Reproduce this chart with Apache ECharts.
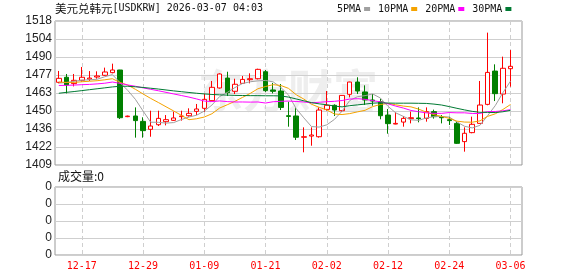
<!DOCTYPE html>
<html><head><meta charset="utf-8">
<script src="https://cdn.jsdelivr.net/npm/echarts@6/dist/echarts.min.js"></script>
<style>html,body{margin:0;padding:0;background:#fff}#c{width:578px;height:276px}</style>
</head><body><div id="c"></div>
<script>
const dates = ['12-12','12-15','12-16','12-17','12-18','12-19','12-22','12-23','12-24','12-25',
'12-26','12-29','12-30','12-31','01-02','01-05','01-06','01-07','01-08','01-09',
'01-12','01-13','01-14','01-15','01-16','01-19','01-20','01-21','01-22','01-23',
'01-26','01-27','01-28','01-29','01-30','02-02','02-03','02-04','02-05','02-06',
'02-09','02-10','02-11','02-12','02-13','02-16','02-17','02-18','02-19','02-20',
'02-23','02-24','02-25','02-26','02-27','03-02','03-03','03-04','03-05','03-06',''];
const opens = [1471.6,1475.4,1470.6,1473.1,1474.0,1475.6,1476.9,1478.9,1480.9,1445.6,
1446.1,1442.0,1436.0,1439.5,1441.8,1442.8,1445.6,1446.3,1449.6,1451.9,
1457.7,1467.3,1474.8,1464.8,1470.8,1473.6,1474.3,1479.6,1465.8,1465.0,
1446.3,1446.1,1430.0,1430.9,1430.4,1451.1,1454.2,1450.1,1462.5,1471.8,
1464.3,1458.2,1456.9,1446.8,1440.0,1441.5,1444.1,1444.6,1444.3,1449.4,
1445.3,1443.3,1440.5,1426.7,1433.5,1440.5,1454.9,1480.1,1462.7,1481.9];
const closes = [1474.6,1469.6,1473.1,1475.4,1474.8,1476.4,1479.4,1480.9,1444.8,1446.0,
1442.6,1435.0,1438.5,1444.3,1443.3,1444.6,1446.1,1448.1,1451.4,1458.7,
1467.8,1477.9,1463.7,1470.1,1473.8,1474.3,1481.4,1465.3,1464.8,1452.6,
1445.8,1430.0,1430.4,1431.7,1450.6,1454.2,1450.6,1461.7,1471.8,1465.0,
1458.2,1457.4,1446.3,1440.3,1440.5,1444.3,1444.8,1444.1,1449.4,1445.6,
1444.8,1442.6,1425.4,1433.0,1439.8,1454.4,1479.1,1463.0,1482.2,1483.7];
const lows = [1470.8,1463.2,1468.5,1472.1,1472.6,1474.3,1476.4,1478.4,1443.8,1445.2,
1429.7,1429.7,1430.4,1438.5,1439.0,1442.4,1442.6,1445.6,1446.8,1449.1,
1457.5,1466.8,1461.2,1462.7,1470.5,1470.8,1473.8,1464.3,1463.2,1450.6,
1438.0,1427.9,1418.6,1423.6,1429.7,1450.1,1446.1,1449.1,1460.2,1462.7,
1454.4,1453.9,1443.6,1432.7,1439.8,1438.0,1440.5,1441.3,1441.8,1444.1,
1440.5,1439.3,1424.9,1419.1,1433.0,1440.5,1454.2,1457.4,1455.7,1468.3];
const highs = [1480.2,1477.9,1477.9,1483.2,1480.1,1479.9,1482.7,1485.7,1481.0,1446.4,
1452.6,1445.1,1450.1,1450.1,1446.8,1449.4,1450.1,1451.9,1455.2,1463.0,
1472.6,1478.4,1479.6,1474.3,1476.4,1478.4,1481.9,1480.9,1471.1,1470.3,
1456.9,1452.1,1437.5,1437.5,1452.6,1465.0,1454.9,1461.9,1472.0,1475.4,
1469.3,1462.7,1459.2,1451.4,1448.9,1446.1,1449.4,1452.6,1452.6,1450.9,
1446.8,1445.6,1441.8,1437.5,1445.6,1472.6,1509.2,1485.2,1491.0,1496.0];
const ma5 = [1471.0,1471.5,1472.3,1473.2,1473.5,1473.9,1475.8,1477.4,1471.3,1465.5,
1458.7,1449.9,1441.4,1441.3,1440.7,1441.1,1443.4,1445.3,1446.7,1449.8,
1454.4,1460.8,1463.9,1467.6,1470.7,1472.0,1472.7,1473.0,1471.9,1467.7,
1462.0,1451.7,1444.7,1438.1,1437.7,1439.4,1443.5,1449.8,1457.8,1460.7,
1461.5,1462.8,1459.7,1453.4,1448.5,1445.8,1443.2,1442.8,1444.6,1445.6,
1445.7,1445.3,1441.6,1438.3,1437.1,1439.0,1446.3,1453.9,1463.7,1472.5];
const ma10 = [1471.8,1471.5,1471.5,1472.0,1472.4,1472.8,1473.5,1474.3,1471.5,1469.5,
1466.3,1462.8,1459.4,1456.3,1453.1,1449.9,1446.6,1443.3,1444.0,1445.3,
1447.8,1452.1,1454.6,1457.2,1460.2,1463.2,1466.7,1468.4,1469.8,1469.2,
1467.0,1462.2,1458.9,1455.0,1452.7,1450.7,1447.6,1447.2,1447.9,1449.2,
1450.4,1453.2,1454.8,1455.6,1454.6,1453.6,1453.0,1451.3,1449.0,1447.1,
1445.8,1444.3,1442.2,1441.5,1441.4,1442.4,1445.8,1447.7,1451.0,1454.8];
const ma20 = [1469.2,1469.3,1469.5,1469.8,1470.0,1470.4,1470.9,1471.8,1470.8,1469.6,
1468.6,1467.4,1466.3,1465.2,1464.0,1462.8,1461.6,1460.4,1459.0,1457.4,
1457.0,1457.5,1457.0,1456.7,1456.7,1456.6,1456.7,1455.9,1456.9,1457.2,
1457.4,1457.1,1456.7,1456.1,1456.5,1456.9,1457.2,1457.8,1458.9,1459.2,
1458.7,1457.7,1456.8,1455.3,1453.6,1452.1,1450.3,1449.3,1448.5,1448.1,
1448.1,1448.7,1448.5,1448.5,1448.0,1448.0,1449.4,1449.5,1450.0,1450.9];
const ma30 = [1463.3,1464.0,1464.6,1465.3,1466.0,1466.7,1467.4,1468.1,1468.6,1468.6,
1468.2,1467.7,1467.1,1466.5,1465.8,1465.1,1464.5,1463.9,1463.3,1462.8,
1462.4,1462.1,1461.9,1461.7,1461.6,1461.5,1461.5,1461.4,1461.4,1461.3,
1460.4,1459.0,1457.6,1456.2,1455.3,1454.6,1453.6,1453.0,1453.9,1454.5,
1455.1,1455.8,1456.1,1455.9,1455.8,1455.8,1455.8,1455.7,1455.6,1455.1,
1454.4,1453.2,1451.9,1450.7,1449.6,1448.9,1448.8,1448.7,1449.3,1450.4];
const volumes = [0,0,0,0,0,0,0,0,0,0,0,0,0,0,0,0,0,0,0,0,0,0,0,0,0,0,0,0,0,0,
0,0,0,0,0,0,0,0,0,0,0,0,0,0,0,0,0,0,0,0,0,0,0,0,0,0,0,0,0,0];
const priceTicks = ['1409','1422','1436','1450','1463','1477','1490','1504','1518'];
const volTicks = ['0','0','0','0','0'];
const maNames = ['5PMA','10PMA','20PMA','30PMA'];
const maColors = ['#a0a0a0','#f5a300','#ff00ff','#007a33'];
const titleMain = '美元兑韩元';
const titleSub = '[USDKRW] 2026-03-07 04:03';
const volTitle = '成交量:0';

const kdata = opens.map((o, i) => [o, closes[i], lows[i], highs[i]]);
const mono = "'DejaVu Sans Mono','Liberation Mono',monospace";
const labelIv = (idx) => idx % 8 === 3;

const chart = echarts.init(document.getElementById('c'), null, {renderer: 'canvas'});
const splitX = {show: true, interval: labelIv, alignWithLabel: true, lineStyle: {color: '#cfcfcf', type: [4, 3], width: 1}};
chart.setOption({
  animation: false,
  backgroundColor: '#fff',
  legend: {
    data: maNames, left: 337, top: 4, padding: 0, align: 'right', icon: 'rect',
    itemWidth: 6, itemHeight: 4, itemGap: 8,
    textStyle: {fontFamily: mono, fontSize: 10, color: '#111', padding: [0, -2, 0, 0]},
    selectedMode: false
  },
  graphic: [
    {type: 'text', left: 198, top: 68, z: 0, silent: true,
     style: {text: '东方财富', font: "bold 45px 'Noto Sans CJK SC'", fill: 'rgba(160,160,160,0.18)'}},
    {type: 'text', left: 55, top: 3,
     style: {text: '{a|' + titleMain + '}{b|' + titleSub + '}',
       rich: {a: {fontFamily: "'Noto Sans CJK SC'", fontSize: 11.5, fill: '#111'},
              b: {fontFamily: mono, fontSize: 10, fill: '#111'}}}},
    {type: 'text', left: 58, top: 170,
     style: {text: volTitle, font: "12px 'Noto Sans CJK SC'", fill: '#111'}}
  ],
  grid: [
    {left: 55, top: 21, width: 467, height: 144, show: true, borderColor: '#999', borderWidth: 1, backgroundColor: 'transparent'},
    {left: 55, top: 187, width: 467, height: 68, show: true, borderColor: '#999', borderWidth: 1, backgroundColor: 'transparent'}
  ],
  xAxis: [
    {type: 'category', gridIndex: 0, data: dates, boundaryGap: true,
     axisLine: {show: false}, axisTick: {show: false, alignWithLabel: true}, axisLabel: {show: false}, splitLine: splitX},
    {type: 'category', gridIndex: 1, data: dates, boundaryGap: true,
     axisLine: {show: false}, axisTick: {show: false, alignWithLabel: true},
     axisLabel: {show: true, interval: labelIv, color: '#ff0000', fontFamily: mono, fontSize: 10, margin: 6},
     splitLine: splitX}
  ],
  yAxis: [
    {type: 'value', gridIndex: 0, min: 1409, max: 1518, show: false},
    {type: 'value', gridIndex: 0, min: 0, max: 8, interval: 1, position: 'left',
     axisLine: {show: false}, axisTick: {show: false},
     axisLabel: {formatter: (v) => priceTicks[v], color: '#222', fontFamily: "'Liberation Sans',Arial", fontSize: 12, margin: 3},
     splitLine: {show: true, lineStyle: {color: '#cfcfcf', width: 1}}},
    {type: 'value', gridIndex: 1, min: 0, max: 4, interval: 1,
     axisLine: {show: false}, axisTick: {show: false},
     axisLabel: {formatter: (v) => volTicks[v], color: '#222', fontFamily: "'Liberation Sans',Arial", fontSize: 12, margin: 3},
     splitLine: {show: true, lineStyle: {color: '#cfcfcf', width: 1}}}
  ],
  series: [
    {name: 'K', type: 'candlestick', xAxisIndex: 0, yAxisIndex: 0, data: kdata, barWidth: 5,
     itemStyle: {color: '#ffffff', color0: '#008000', borderColor: '#ff0000', borderColor0: '#008000', borderWidth: 1}},
    ...[ma5, ma10, ma20, ma30].map((d, k) => ({
      name: maNames[k], type: 'line', xAxisIndex: 0, yAxisIndex: 0, data: d, symbol: 'none', smooth: false,
      lineStyle: {color: maColors[k], width: 1}, itemStyle: {color: maColors[k]}, z: 3
    })),
    {name: 'VOL', type: 'bar', xAxisIndex: 1, yAxisIndex: 2, data: volumes, barWidth: 5, itemStyle: {color: '#008000'}}
  ]
});
</script></body></html>
